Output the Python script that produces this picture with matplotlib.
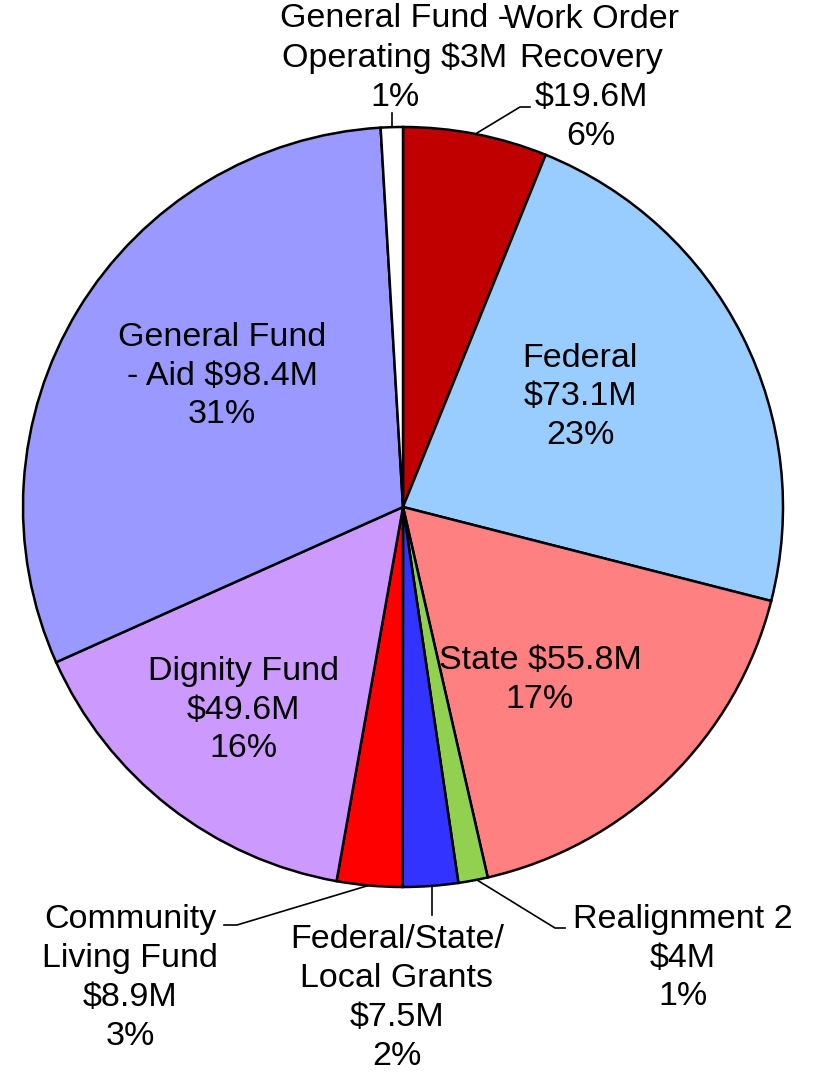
import matplotlib
matplotlib.use('Agg')
import matplotlib.pyplot as plt

plt.rcParams['font.family'] = ['Liberation Sans', 'DejaVu Sans']

''' budget sources (millions) '''
sources = ['Work Order\nRecovery', 'Federal', 'State', 'Realignment 2',
           'Federal/State/\nLocal Grants', 'Community\nLiving Fund', 'Dignity Fund',
           'General Fund\n- Aid', 'General Fund -\nOperating']
amounts = [19.6, 73.1, 55.8, 4, 7.5, 8.9, 49.6, 98.4, 3]
colors = ['#C00000', '#99CCFF', '#FF8080', '#92D050', '#3333FF',
          '#FF0000', '#CC99FF', '#9999FF', '#FFFFFF']

label_texts = [
    'Work Order\nRecovery\n$19.6M\n6%',
    'Federal\n$73.1M\n23%',
    'State $55.8M\n17%',
    'Realignment 2\n$4M\n1%',
    'Federal/State/\nLocal Grants\n$7.5M\n2%',
    'Community\nLiving Fund\n$8.9M\n3%',
    'Dignity Fund\n$49.6M\n16%',
    'General Fund\n- Aid $98.4M\n31%',
    'General Fund -\nOperating $3M\n1%',
]

# label centres and leader lines, in pixels of the 814x1073 figure
W, H = 814, 1073
cx, cy, r = 403, 507, 380
label_px = [(591, 78), (580, 397), (540, 680), (683, 958), (397, 998),
            (130, 978), (243, 710), (222, 376), (395, 58)]
leaders_px = [
    [(477, 133), (520, 107), (530, 107)],
    None, None,
    [(477, 880), (555, 928), (565, 928)],
    [(432, 887), (432, 915)],
    [(370, 885), (237, 925), (224, 925)],
    None, None,
    [(392, 113), (392, 127)],
]

def to_data(p):
    return ((p[0] - cx) / r, (cy - p[1]) / r)

fig = plt.figure(figsize=(W / 100, H / 100), dpi=100)
ax = fig.add_axes([(cx - r) / W, (H - cy - r) / H, 2 * r / W, 2 * r / H])
ax.pie(amounts, colors=colors, startangle=90, counterclock=False, radius=1,
       wedgeprops=dict(edgecolor='black', linewidth=1.8))
ax.set_xlim(-1, 1)
ax.set_ylim(-1, 1)
ax.set_aspect('equal')
ax.axis('off')

for txt, pos, lead in zip(label_texts, label_px, leaders_px):
    x, y = to_data(pos)
    ax.text(x, y, txt, ha='center', va='center', fontsize=24.5,
            linespacing=1.32, clip_on=False)
    if lead:
        pts = [to_data(p) for p in lead]
        ax.plot([p[0] for p in pts], [p[1] for p in pts], color='black',
                linewidth=1.2, clip_on=False)

fig.savefig('out.png', dpi=100)
